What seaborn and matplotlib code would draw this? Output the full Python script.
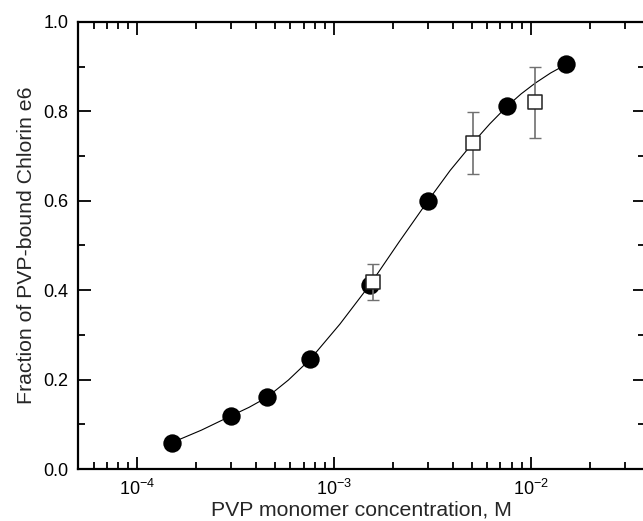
import matplotlib
matplotlib.use("Agg")
import matplotlib.pyplot as plt
import matplotlib.ticker as mticker
import seaborn as sns
import pandas as pd
import numpy as np

# Filled circles
circle_x = [1.5e-4, 3.0e-4, 4.55e-4, 7.55e-4, 1.52e-3, 3.0e-3, 7.55e-3, 1.51e-2]
circle_y = [0.059, 0.119, 0.160, 0.245, 0.412, 0.600, 0.811, 0.905]

# Open squares with error bars
square_x = [1.58e-3, 5.06e-3, 1.05e-2]
square_y = [0.419, 0.729, 0.820]
square_err = [0.04, 0.07, 0.08]

# Fitted curve
curve_x = [1.5e-4, 2.12e-4, 3.0e-4, 3.70e-4, 4.55e-4, 5.86e-4, 7.55e-4,
           1.07e-3, 1.52e-3, 2.14e-3, 3.0e-3, 3.89e-3, 5.06e-3, 6.18e-3,
           7.55e-3, 8.91e-3, 1.05e-2, 1.26e-2, 1.51e-2]
curve_y = [0.059, 0.087, 0.119, 0.138, 0.160, 0.199, 0.245,
           0.324, 0.412, 0.508, 0.600, 0.668, 0.729, 0.772,
           0.811, 0.839, 0.863, 0.886, 0.905]

xlabel = "PVP monomer concentration, M"
ylabel = "Fraction of PVP-bound Chlorin e6"

sns.set_theme(style="ticks")
plt.rcParams["font.family"] = ["Liberation Sans", "DejaVu Sans"]
plt.rcParams["mathtext.fontset"] = "custom"
plt.rcParams["mathtext.rm"] = "Liberation Sans"
plt.rcParams["mathtext.it"] = "Liberation Sans:italic"
plt.rcParams["mathtext.bf"] = "Liberation Sans:bold"
plt.rcParams["axes.unicode_minus"] = False

fig = plt.figure(figsize=(6.43, 5.21), dpi=100)
ax = fig.add_axes([78/643, 52/521, 567/643, 447/521])

df_curve = pd.DataFrame({"x": curve_x, "y": curve_y})
df_circ = pd.DataFrame({"x": circle_x, "y": circle_y})
df_sq = pd.DataFrame({"x": square_x, "y": square_y, "e": square_err})

sns.lineplot(data=df_curve, x="x", y="y", ax=ax, color="black", lw=0.8,
             sort=True, estimator=None, zorder=1)
sns.scatterplot(data=df_circ, x="x", y="y", ax=ax, marker="o", s=175,
                color="black", edgecolor="black", linewidth=0, zorder=2)
ax.errorbar(df_sq["x"], df_sq["y"], yerr=df_sq["e"], fmt="none",
            ecolor="#707070", elinewidth=1.2, capsize=4, capthick=1.0, zorder=3)
sns.scatterplot(data=df_sq, x="x", y="y", ax=ax, marker="s", s=110,
                facecolor="white", edgecolor="#222222", linewidth=1.1, zorder=4)

ax.set_xscale("log")
ax.set_xlim(5e-5, 3.8e-2)
ax.set_ylim(0.0, 1.0)
ax.yaxis.set_major_locator(mticker.MultipleLocator(0.2))
ax.yaxis.set_minor_locator(mticker.MultipleLocator(0.1))
ax.yaxis.set_major_formatter(mticker.FormatStrFormatter("%.1f"))
ax.xaxis.set_major_locator(mticker.LogLocator(base=10, numticks=10))
ax.xaxis.set_minor_locator(mticker.LogLocator(base=10, subs=np.arange(2, 10), numticks=20))
ax.xaxis.set_minor_formatter(mticker.NullFormatter())

ax.tick_params(which="both", direction="in", top=True, right=True, colors="black",
               labelsize=13, width=1.3)
ax.tick_params(which="major", length=9, pad=7)
ax.tick_params(which="minor", length=5)
for sp in ax.spines.values():
    sp.set_linewidth(1.6)
    sp.set_color("black")

ax.set_xlabel(xlabel, fontsize=15.3, labelpad=1)
ax.set_ylabel(ylabel, fontsize=15.3, labelpad=5)

fig.savefig("out.png", dpi=100)
